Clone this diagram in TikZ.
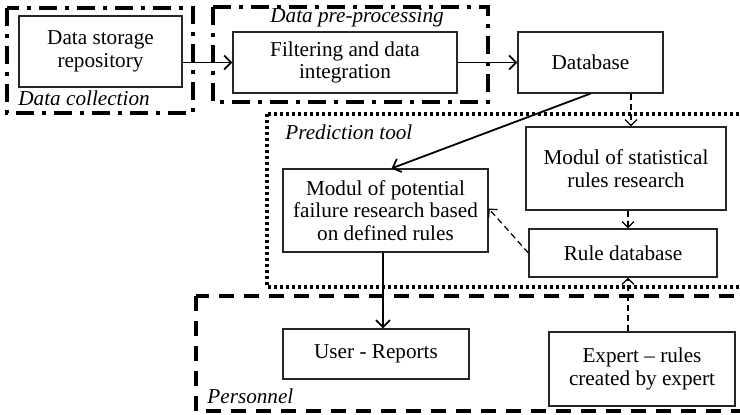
\documentclass[tikz,border=0pt]{standalone}
\usepackage{fontspec}
\setmainfont{Liberation Serif}
\usetikzlibrary{arrows.meta,positioning,calc}

\begin{document}
\begin{tikzpicture}[
    x=0.5pt, y=-0.5pt,
    font=\fontsize{10.6}{11.4}\selectfont,
    box/.style={rectangle, draw=black!85, line width=0.6pt, align=center, inner sep=0pt},
    grp/.style={line width=1.6pt},
    dashdot/.style={grp, dash pattern=on 9pt off 4pt on 2pt off 4pt},
    dots/.style={grp, dash pattern=on 1.5pt off 1.5pt},
    dashes/.style={grp, dash pattern=on 7.5pt off 5pt},
    lbl/.style={font=\fontsize{10.6}{11.4}\selectfont\itshape, inner sep=0pt, anchor=west},
    arr/.style={-{Straight Barb[length=3.5pt, width=7pt]}, line width=0.9pt},
    darr/.style={-{Straight Barb[length=3pt, width=6pt]}, line width=0.6pt, dash pattern=on 3pt off 2pt}
]
    \useasboundingbox (0,0) rectangle (740,415);

    \draw[dashdot] (7,8) rectangle (193,113);
    \draw[dashdot] (213,7) rectangle (488,102);
    \draw[dots] (267,114) rectangle (750,287);
    \draw[dashes] (196,296) rectangle (750,411);

    \node[lbl] (collect) at (18,98) {Data collection};
    \node[lbl] (prep) at (270,18) {Data pre-processing};
    \node[lbl] (predict) at (285,132) {Prediction tool};
    \node[lbl] (staff) at (207,396) {Personnel};

    \node[box, minimum width=81.5pt, minimum height=35.5pt] (store) at (100.5,51.5) {Data storage\\repository};
    \node[box, minimum width=112pt, minimum height=30.5pt] (filter) at (345,62.5) {Filtering and data\\integration};
    \node[box, minimum width=72.5pt, minimum height=30.5pt] (db) at (590.5,62.5) {Database};
    \node[box, minimum width=100pt, minimum height=41.5pt] (stat) at (626,168.5) {Modul of statistical\\rules research};
    \node[box, minimum width=94pt, minimum height=24pt] (rules) at (623,253) {Rule database};
    \node[box, minimum width=102.5pt, minimum height=41.5pt] (fail) at (385.5,210.5) {Modul of potential\\failure research based\\on defined rules};
    \node[box, minimum width=93pt, minimum height=25pt] (user) at (376,354) {User - Reports};
    \node[box, minimum width=93pt, minimum height=37pt] (expert) at (642,369) {Expert -- rules\\created by expert};

    \draw[arr] (store.east |- filter.west) -- (filter.west);
    \draw[arr] (filter.east) -- (db.west);
    \draw[arr] (db.south) -- ([xshift=3pt]fail.north);
    \draw[darr] ([xshift=20.25pt]db.south) -- ([xshift=20.25pt]db.south |- stat.north);
    \draw[darr] ([xshift=1pt]stat.south) -- ([xshift=1pt]stat.south |- rules.north);
    \draw[darr] (rules.west) -- ([yshift=1pt]fail.east);
    \draw[arr] ([xshift=-1.25pt]fail.south) -- ([xshift=-1.25pt]fail.south |- user.north);
    \draw[darr] ([xshift=2.5pt]rules.south |- expert.north) -- ([xshift=2.5pt]rules.south);
\end{tikzpicture}
\end{document}
